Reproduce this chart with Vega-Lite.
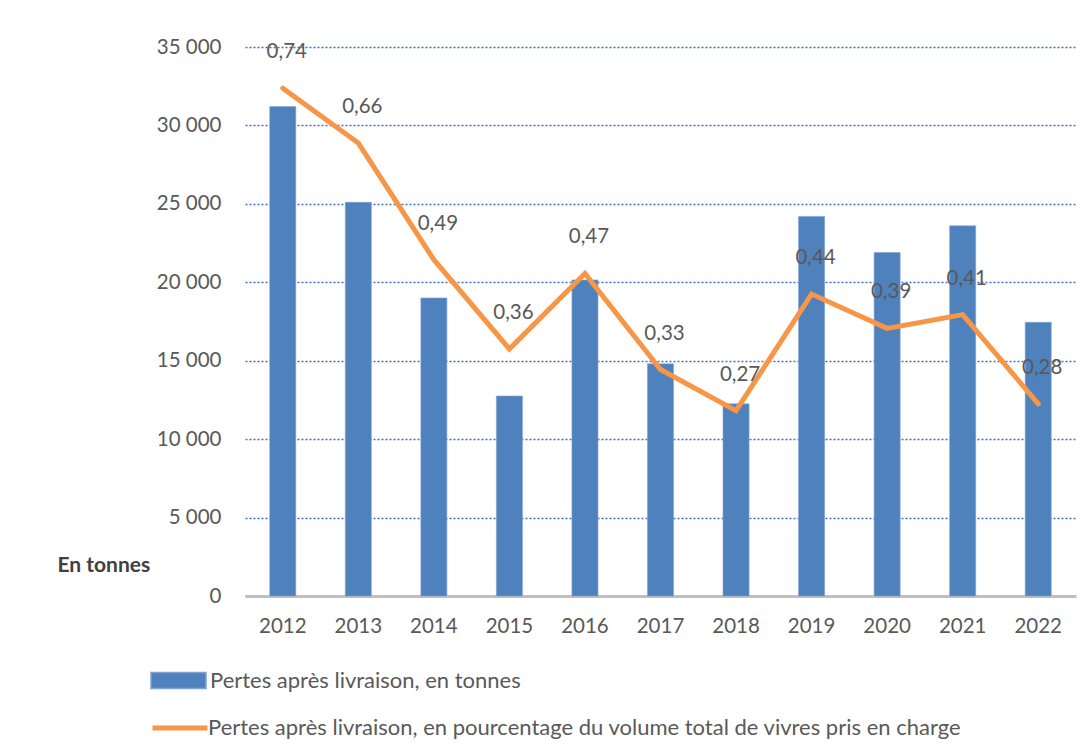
{
  "$schema": "https://vega.github.io/schema/vega-lite/v6.json",
  "width": 831,
  "height": 549,
  "autosize": {"type": "none"},
  "padding": {"left": 245, "top": 47, "right": 15, "bottom": 155},
  "background": "white",
  "config": {
    "view": {"stroke": null},
    "font": "Lato",
    "locale": {"number": {"decimal": ",", "thousands": "\u00a0", "grouping": [3], "currency": ["", " €"]}}
  },
  "data": {
    "values": [
      {"annee": "2012", "tonnes": 31200, "pct": 0.74},
      {"annee": "2013", "tonnes": 25100, "pct": 0.66},
      {"annee": "2014", "tonnes": 19000, "pct": 0.49},
      {"annee": "2015", "tonnes": 12750, "pct": 0.36},
      {"annee": "2016", "tonnes": 20150, "pct": 0.47},
      {"annee": "2017", "tonnes": 14800, "pct": 0.33},
      {"annee": "2018", "tonnes": 12250, "pct": 0.27},
      {"annee": "2019", "tonnes": 24200, "pct": 0.44},
      {"annee": "2020", "tonnes": 21900, "pct": 0.39},
      {"annee": "2021", "tonnes": 23600, "pct": 0.41},
      {"annee": "2022", "tonnes": 17450, "pct": 0.28}
    ]
  },
  "encoding": {
    "x": {
      "field": "annee", "type": "nominal",
      "scale": {"paddingInner": 0, "paddingOuter": 0},
      "axis": {
        "title": null, "labelAngle": 0, "labelFontSize": 20.5, "labelColor": "#595959",
        "labelPadding": 20, "ticks": false, "domainColor": "#BFBFBF", "domainWidth": 3, "grid": false
      }
    }
  },
  "layer": [
    {
      "mark": {"type": "bar", "width": {"band": 0.345}, "stroke": "#7FA3D4", "strokeWidth": 0.6},
      "encoding": {
        "y": {
          "field": "tonnes", "type": "quantitative",
          "scale": {"domain": [0, 35000], "nice": false},
          "axis": {
            "values": [0, 5000, 10000, 15000, 20000, 25000, 30000, 35000],
            "format": ",.0f",
            "title": "En tonnes", "titleAngle": 0, "titleAlign": "left", "titleBaseline": "alphabetic",
            "titleX": -188, "titleY": 524, "titleFontSize": 21, "titleFontWeight": "bold", "titleColor": "#404040",
            "labelFontSize": 20.5, "labelColor": "#595959", "labelPadding": 24,
            "ticks": false, "domain": false,
            "grid": true, "gridColor": "#4472C4", "gridDash": [2, 2], "gridWidth": 1.5
          }
        },
        "color": {
          "datum": "Pertes après livraison, en tonnes",
          "scale": {"range": ["#4F81BD"]},
          "legend": {
            "title": null, "orient": "none", "legendX": -95, "legendY": 605,
            "symbolType": "M-1,-0.29H1V0.29H-1Z", "symbolSize": 3025, "symbolOpacity": 1,
            "labelFontSize": 22, "labelColor": "#595959", "labelOffset": 3, "padding": 0, "labelLimit": 0
          }
        }
      }
    },
    {
      "encoding": {
        "y": {
          "field": "pct", "type": "quantitative",
          "scale": {"domain": [0, 0.8], "nice": false},
          "axis": null
        }
      },
      "layer": [
        {
          "mark": {"type": "line", "strokeWidth": 5, "strokeJoin": "miter", "strokeCap": "round"},
          "encoding": {
            "stroke": {
              "datum": "Pertes après livraison, en pourcentage du volume total de vivres pris en charge",
              "scale": {"range": ["#F79646"]},
              "legend": {
                "title": null, "orient": "none", "legendX": -95, "legendY": 651,
                "symbolType": "stroke", "symbolSize": 3025, "symbolStrokeWidth": 5,
                "labelFontSize": 22, "labelColor": "#595959", "labelOffset": -2, "padding": 0, "labelLimit": 0
              }
            }
          }
        },
        {
          "mark": {"type": "text", "fontSize": 20.5, "color": "#595959", "dy": -36, "dx": 4},
          "encoding": {
            "text": {"field": "pct", "type": "quantitative", "format": ".2f"}
          }
        }
      ]
    }
  ],
  "resolve": {"scale": {"y": "independent"}}
}
